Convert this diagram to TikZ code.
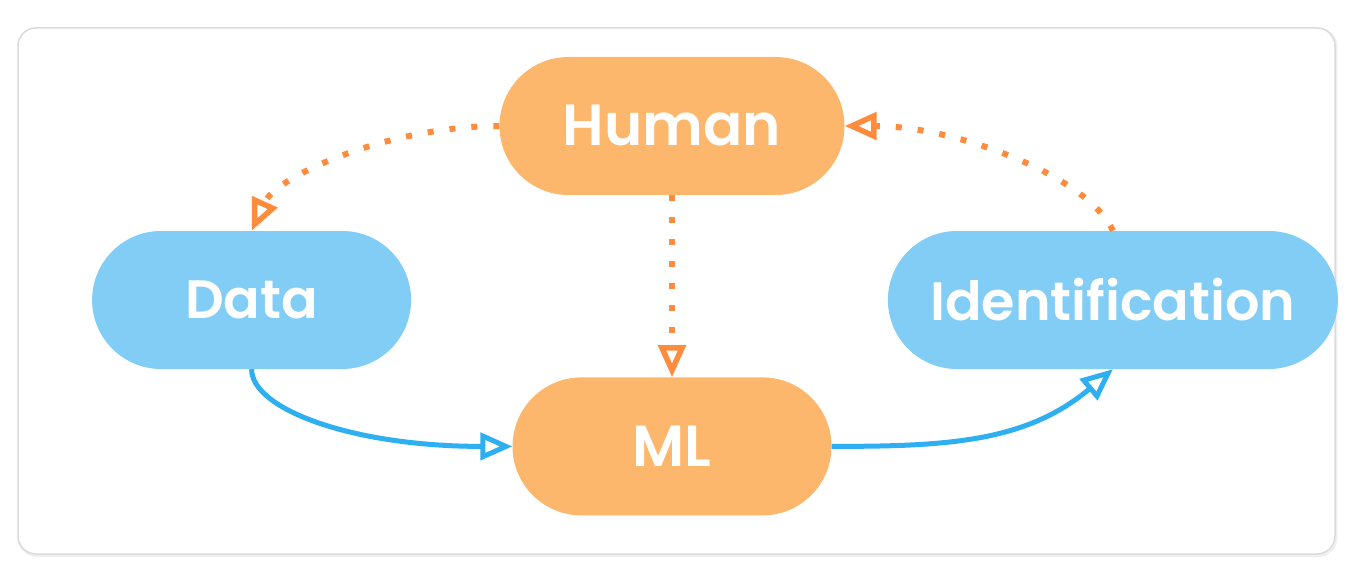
\documentclass[tikz,border=0pt]{standalone}
\usepackage{fontspec}
\setmainfont{Poppins}[BoldFont={Poppins SemiBold}]
\usepackage{xcolor}
\usetikzlibrary{positioning,arrows.meta}
\definecolor{nodeorange}{HTML}{FDB76C}
\definecolor{nodeblue}{HTML}{82CDF6}
\definecolor{lineorange}{HTML}{FF8B3D}
\definecolor{lineblue}{HTML}{2EAFF2}

\begin{document}
\begin{tikzpicture}[x=1pt,y=1pt,
    pill/.style={rectangle,rounded corners=69pt,minimum height=138pt,inner sep=0pt,text=white},
    orangepill/.style={pill,fill=nodeorange,font=\fontsize{58}{60}\selectfont\bfseries},
    bluepill/.style={pill,fill=nodeblue,font=\fontsize{54}{56}\selectfont\bfseries},
    dotline/.style={draw=lineorange,line width=6pt,dash pattern=on 6pt off 16pt,-{Triangle[open,length=32pt,width=27pt,line width=5.5pt]}},
    flowline/.style={draw=lineblue,line width=5pt,-{Triangle[open,length=32pt,width=27pt,line width=5pt]}}]
    \useasboundingbox (0,0) rectangle (1362,582);
    \draw[gray!12,line width=3pt,rounded corners=18pt] (19,26.5) rectangle (1336,553);
    \draw[gray!28,line width=1.5pt,fill=white,rounded corners=18pt] (18,28) rectangle (1335,554);

    \node[orangepill,minimum width=345pt] (human) at (672,456) {Human};
    \node[orangepill,minimum width=319pt,below=182pt of human] (ml) {ML};
    \node[bluepill,minimum width=319pt,above left=8pt and 101pt of ml] (data) {Data};
    \node[bluepill,minimum width=450pt,above right=8pt and 56pt of ml] (ident) {Identification};

    \draw[dotline] (human.west) .. controls +(-110,0) and +(25,55) .. (data.north);
    \draw[dotline] (human.south) -- (ml.north);
    \draw[dotline] (ident.north) .. controls +(-25,55) and +(110,0) .. (human.east);
    \draw[flowline] (data.south) .. controls +(0,-40) and +(-160,0) .. (ml.west);
    \draw[flowline] (ml.east) to[out=0,in=-140] (ident.south);
\end{tikzpicture}
\end{document}
